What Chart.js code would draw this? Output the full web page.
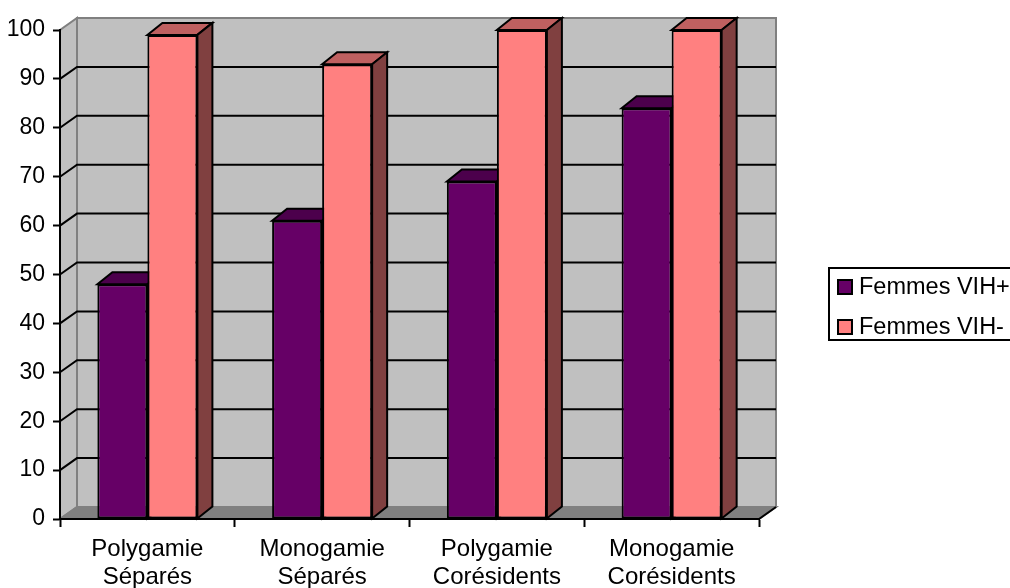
<!DOCTYPE html>
<html>
<head>
<meta charset="utf-8">
<script src="https://cdn.jsdelivr.net/npm/chart.js@4.4.1/dist/chart.umd.min.js"></script>
<style>
  html, body { margin: 0; padding: 0; background: #ffffff; }
  #wrap { width: 1010px; height: 588px; }
</style>
</head>
<body>
<div id="wrap"><canvas id="chart" width="1010" height="588"></canvas></div>
<script>
// Chart data
const categories = [
  ['Polygamie', 'Séparés'],
  ['Monogamie', 'Séparés'],
  ['Polygamie', 'Corésidents'],
  ['Monogamie', 'Corésidents']
];
const seriesNames = ['Femmes VIH+', 'Femmes VIH-'];
const femmesVihPlus = [48, 61, 69, 84];
const femmesVihMoins = [99, 93, 100, 100];
const yTickValues = [0, 10, 20, 30, 40, 50, 60, 70, 80, 90, 100];

// Colours: front face, top face, side face
const purple = { front: '#660066', top: '#4c004c', side: '#330033' };
const pink = { front: '#ff8080', top: '#bf6060', side: '#804040' };

// Depth of the 3D walls and of the columns
const WALL_DX = 17, WALL_DY = -12;
const BAR_DX = 15, BAR_DY = -12;

const FONT = "'Liberation Sans', Arial, sans-serif";
Chart.defaults.font.family = FONT;
Chart.defaults.color = '#000000';

function polygon(ctx, pts) {
  ctx.beginPath();
  ctx.moveTo(pts[0][0], pts[0][1]);
  for (let i = 1; i < pts.length; i++) ctx.lineTo(pts[i][0], pts[i][1]);
  ctx.closePath();
}

// Back wall, side wall, floor and gridlines of the 3D box
const wallsPlugin = {
  id: 'walls',
  beforeDraw(chart) {
    const { ctx, chartArea: { left, right, top, bottom }, scales: { y } } = chart;
    ctx.save();
    ctx.lineJoin = 'miter';
    // side wall
    ctx.fillStyle = '#c0c0c0';
    ctx.strokeStyle = '#808080';
    ctx.lineWidth = 2;
    polygon(ctx, [[left, bottom], [left, top], [left + WALL_DX, top + WALL_DY], [left + WALL_DX, bottom + WALL_DY]]);
    ctx.fill();
    ctx.stroke();
    // back wall
    ctx.beginPath();
    ctx.rect(left + WALL_DX, top + WALL_DY, right - left, bottom - top);
    ctx.fill();
    ctx.stroke();
    // floor
    ctx.fillStyle = '#808080';
    polygon(ctx, [[left, bottom], [right, bottom], [right + WALL_DX, bottom + WALL_DY], [left + WALL_DX, bottom + WALL_DY]]);
    ctx.fill();
    ctx.stroke();
    // gridlines
    ctx.strokeStyle = '#000000';
    ctx.lineWidth = 2;
    yTickValues.forEach(v => {
      if (v === y.min || v === y.max) return;
      const py = y.getPixelForValue(v);
      ctx.beginPath();
      ctx.moveTo(left, py);
      ctx.lineTo(left + WALL_DX, py + WALL_DY);
      ctx.lineTo(right + WALL_DX, py + WALL_DY);
      ctx.stroke();
    });
    // front-right floor edge
    ctx.beginPath();
    ctx.moveTo(right, bottom);
    ctx.lineTo(right + WALL_DX, bottom + WALL_DY);
    ctx.stroke();
    ctx.restore();
  }
};

// Columns: front face drawn by the bar element, then top and side faces.
// Series are painted left to right so each column hides the side of the one before it.
const columnsPlugin = {
  id: 'columns3d',
  beforeDatasetsDraw(chart) {
    const { ctx } = chart;
    const n = chart.data.labels.length;
    for (let i = 0; i < n; i++) {
      chart.data.datasets.forEach((ds, di) => {
        const meta = chart.getDatasetMeta(di);
        const el = meta.data[i];
        if (!el) return;
        el.draw(ctx, chart.chartArea);
        const faces = ds.faces;
        const { x, y, base, width } = el.getProps(['x', 'y', 'base', 'width'], true);
        const l = x - width / 2, r = x + width / 2;
        ctx.save();
        ctx.strokeStyle = '#000000';
        ctx.lineWidth = 2;
        ctx.lineJoin = 'miter';
        polygon(ctx, [[l, y], [r, y], [r + BAR_DX, y + BAR_DY], [l + BAR_DX, y + BAR_DY]]);
        ctx.fillStyle = faces.top;
        ctx.fill();
        ctx.stroke();
        polygon(ctx, [[r, y], [r + BAR_DX, y + BAR_DY], [r + BAR_DX, base + BAR_DY], [r, base]]);
        ctx.fillStyle = faces.side;
        ctx.fill();
        ctx.stroke();
        ctx.restore();
      });
    }
    return false;
  }
};

// Boxed legend at the right
const legendPlugin = {
  id: 'boxLegend',
  afterDraw(chart) {
    const { ctx } = chart;
    const items = chart.data.datasets.map(d => ({ text: d.label, color: d.backgroundColor }));
    ctx.save();
    ctx.strokeStyle = '#000000';
    ctx.lineWidth = 2;
    ctx.fillStyle = '#ffffff';
    ctx.beginPath();
    ctx.rect(829, 268, 200, 72);
    ctx.fill();
    ctx.stroke();
    ctx.font = '23.5px ' + FONT;
    ctx.textBaseline = 'middle';
    items.forEach((it, i) => {
      const cy = 287 + i * 40;
      ctx.fillStyle = it.color;
      ctx.fillRect(838, cy - 7, 14, 14);
      ctx.strokeRect(838, cy - 7, 14, 14);
      ctx.fillStyle = '#000000';
      ctx.fillText(it.text, 859, cy + 1);
    });
    ctx.restore();
  }
};

new Chart(document.getElementById('chart'), {
  type: 'bar',
  data: {
    labels: categories,
    datasets: [
      {
        label: seriesNames[0],
        data: femmesVihPlus,
        backgroundColor: purple.front,
        borderColor: '#000000',
        borderWidth: 2,
        borderSkipped: false,
        faces: purple
      },
      {
        label: seriesNames[1],
        data: femmesVihMoins,
        backgroundColor: pink.front,
        borderColor: '#000000',
        borderWidth: 2,
        borderSkipped: false,
        faces: pink
      }
    ]
  },
  options: {
    responsive: false,
    animation: false,
    layout: { padding: { top: 30, right: 251, left: 0, bottom: 0 } },
    datasets: { bar: { categoryPercentage: 0.5725, barPercentage: 1 } },
    plugins: { legend: { display: false }, tooltip: { enabled: false } },
    scales: {
      x: {
        grid: { display: true, drawOnChartArea: false, drawTicks: true, tickLength: 8, tickColor: '#000000', tickWidth: 2, offset: true },
        border: { display: true, color: '#000000', width: 2 },
        ticks: { font: { size: 24, lineHeight: 1.17 }, color: '#000000', padding: 8, maxRotation: 0, autoSkip: false },
        afterFit(scale) { scale.height = 69; }
      },
      y: {
        min: 0,
        max: 100,
        grid: { display: true, drawOnChartArea: false, drawTicks: true, tickLength: 7, tickColor: '#000000', tickWidth: 2 },
        border: { display: true, color: '#000000', width: 2 },
        ticks: { font: { size: 23 }, color: '#000000', padding: 8 },
        afterBuildTicks(scale) { scale.ticks = yTickValues.map(v => ({ value: v })); },
        afterFit(scale) { scale.width = 60; }
      }
    }
  },
  plugins: [wallsPlugin, columnsPlugin, legendPlugin]
});
</script>
</body>
</html>
